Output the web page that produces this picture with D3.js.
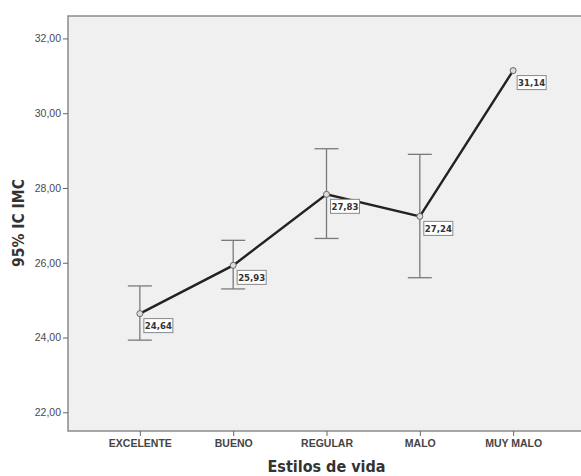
<!DOCTYPE html>
<html>
<head>
<meta charset="utf-8">
<script src="https://cdn.jsdelivr.net/npm/d3@7"></script>
<style>
  body { margin: 0; background: #fff; }
  svg { display: block; font-family: "Liberation Sans Narrow", "DejaVu Sans Condensed", "Liberation Sans", sans-serif; }
</style>
</head>
<body>
<svg id="chart" width="581" height="476"></svg>
<script>
// datos
var categorias = ["EXCELENTE", "BUENO", "REGULAR", "MALO", "MUY MALO"];
var medias = [24.64, 25.93, 27.83, 27.24, 31.14];
var limInf = [23.93, 25.30, 26.65, 25.60, null];
var limSup = [25.38, 26.60, 29.05, 28.90, null];
var yTicks = [22, 24, 26, 28, 30, 32];

var svg = d3.select("#chart");
var plotL = 68, plotT = 16, plotR = 585, plotB = 431;

var x = d3.scalePoint().domain(categorias).range([plotL, plotR]).padding(0.77);
var y = d3.scaleLinear().domain([21.5, 32.6]).range([plotB, plotT]);

var fmt = function(v) { return v.toFixed(2).replace(".", ","); };

// fondo del area (sin borde derecho, queda fuera de la imagen)
svg.append("rect")
  .attr("x", plotL).attr("y", plotT)
  .attr("width", plotR - plotL).attr("height", plotB - plotT)
  .attr("fill", "#f0f0f0");
svg.append("path")
  .attr("d", "M" + plotR + "," + plotT + "H" + plotL + "V" + plotB + "H" + plotR)
  .attr("fill", "none")
  .attr("stroke", "#8a8a8a").attr("stroke-width", 1.5);

// eje y
var yAxis = svg.append("g")
  .attr("transform", "translate(" + plotL + ",0)")
  .call(d3.axisLeft(y).tickValues(yTicks).tickSize(5).tickPadding(2).tickFormat(fmt));
yAxis.select(".domain").remove();
yAxis.selectAll("line").attr("stroke", "#666");
yAxis.selectAll("text").attr("fill", "#4a4a4a").attr("font-size", 10.5).attr("font-family", null);

// eje x
var xAxis = svg.append("g")
  .attr("transform", "translate(0," + plotB + ")")
  .call(d3.axisBottom(x).tickSize(5).tickPadding(4));
xAxis.select(".domain").remove();
xAxis.selectAll("line").attr("stroke", "#666");
xAxis.selectAll("text").attr("fill", "#444").attr("font-size", 10.5)
  .attr("font-weight", "bold").attr("font-family", null);

// titulos
svg.append("text")
  .attr("x", (plotL + plotR) / 2).attr("y", 472)
  .attr("text-anchor", "middle")
  .attr("font-size", 16).attr("font-weight", "bold").attr("fill", "#333")
  .text("Estilos de vida");

svg.append("text")
  .attr("transform", "translate(24,223) rotate(-90)")
  .attr("text-anchor", "middle")
  .attr("font-size", 15.5).attr("font-weight", "bold").attr("fill", "#333")
  .text("95% IC IMC");

// barras de error
var datos = categorias.map(function(c, i) {
  return { cat: c, media: medias[i], inf: limInf[i], sup: limSup[i] };
});
var conError = datos.filter(function(d) { return d.inf != null; });

var eb = svg.append("g").attr("stroke", "#7a7a7a").attr("stroke-width", 1.3);
eb.selectAll(".vline").data(conError).enter().append("line")
  .attr("x1", function(d) { return x(d.cat); }).attr("x2", function(d) { return x(d.cat); })
  .attr("y1", function(d) { return y(d.inf); }).attr("y2", function(d) { return y(d.sup); });
eb.selectAll(".capT").data(conError).enter().append("line")
  .attr("x1", function(d) { return x(d.cat) - 12; }).attr("x2", function(d) { return x(d.cat) + 12; })
  .attr("y1", function(d) { return y(d.sup); }).attr("y2", function(d) { return y(d.sup); });
eb.selectAll(".capB").data(conError).enter().append("line")
  .attr("x1", function(d) { return x(d.cat) - 12; }).attr("x2", function(d) { return x(d.cat) + 12; })
  .attr("y1", function(d) { return y(d.inf); }).attr("y2", function(d) { return y(d.inf); });

// linea de medias
var line = d3.line().x(function(d) { return x(d.cat); }).y(function(d) { return y(d.media); });
svg.append("path").datum(datos)
  .attr("d", line)
  .attr("fill", "none").attr("stroke", "#222").attr("stroke-width", 2.4);

svg.selectAll(".pt").data(datos).enter().append("circle")
  .attr("cx", function(d) { return x(d.cat); })
  .attr("cy", function(d) { return y(d.media); })
  .attr("r", 3)
  .attr("fill", "#ddd").attr("stroke", "#666").attr("stroke-width", 1);

// etiquetas
var lab = svg.selectAll(".lab").data(datos).enter().append("g")
  .attr("transform", function(d) { return "translate(" + (x(d.cat) + 4) + "," + (y(d.media) + 5) + ")"; });
lab.append("rect")
  .attr("width", 29).attr("height", 14)
  .attr("fill", "#fff").attr("stroke", "#888").attr("stroke-width", 1);
lab.append("text")
  .attr("x", 14.5).attr("y", 10.5)
  .attr("text-anchor", "middle")
  .attr("font-size", 9.5).attr("font-weight", "bold").attr("fill", "#333")
  .text(function(d) { return fmt(d.media); });
</script>
</body>
</html>
